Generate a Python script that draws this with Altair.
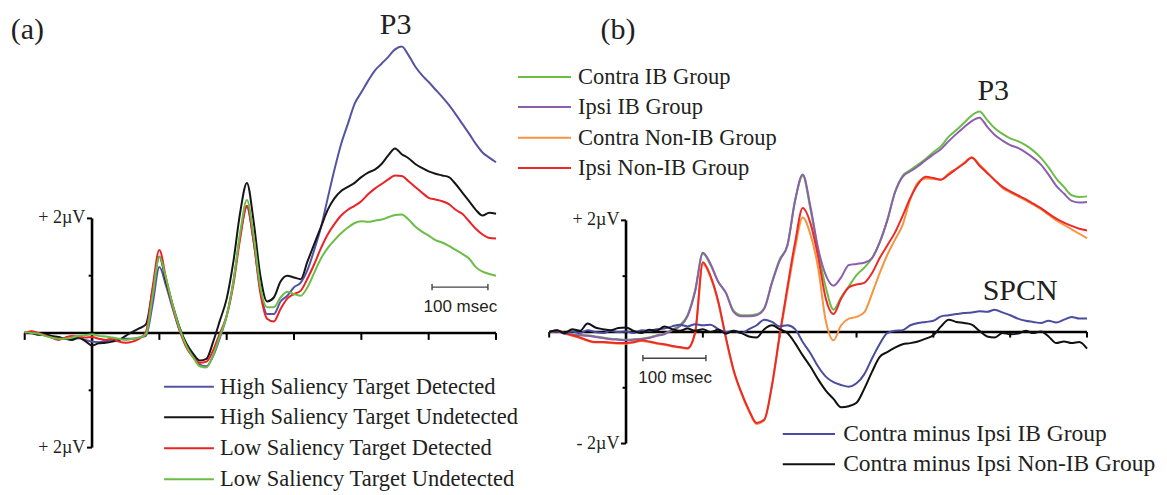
import altair as alt
import pandas as pd

# ---------------- data ----------------
TIME = list(range(-100, 601, 10))  # ms

# Panel (a)
A_SERIES = ["High Saliency Target Detected", "High Saliency Target Undetected",
            "Low Saliency Target Detected", "Low Saliency Target Undetected"]
A_HSD = [0.00, 0.02, -0.02, -0.04, -0.06, -0.08, -0.10, -0.10, -0.09, -0.12,
         -0.15, -0.16, -0.14, -0.13, -0.12, -0.10, -0.10, -0.08, -0.05, 0.50,
         1.15, 0.82, 0.42, 0.05, -0.20, -0.38, -0.55, -0.58, -0.40, -0.08,
         0.30, 0.90, 1.70, 2.20, 1.60, 0.75, 0.33, 0.33, 0.55, 0.65,
         0.80, 0.88, 1.10, 1.45, 1.84, 2.35, 2.85, 3.30, 3.65, 4.00,
         4.20, 4.40, 4.58, 4.70, 4.82, 4.95, 5.00, 4.85, 4.65, 4.50,
         4.38, 4.25, 4.12, 3.98, 3.82, 3.65, 3.48, 3.30, 3.15, 3.06, 2.98]
A_HSU = [0.02, 0.00, -0.03, -0.02, -0.05, -0.07, -0.10, -0.12, -0.08, -0.14,
         -0.22, -0.18, -0.17, -0.15, -0.12, -0.05, 0.02, 0.08, 0.15, 0.75,
         1.33, 0.90, 0.48, 0.10, -0.18, -0.36, -0.48, -0.45, -0.15, 0.22,
         0.60, 1.25, 2.10, 2.62, 1.95, 1.00, 0.55, 0.62, 0.90, 1.00,
         0.97, 0.94, 1.25, 1.55, 1.85, 2.15, 2.35, 2.48, 2.55, 2.62,
         2.72, 2.80, 2.85, 2.95, 3.10, 3.22, 3.12, 3.05, 2.95, 2.88,
         2.82, 2.78, 2.75, 2.72, 2.60, 2.45, 2.30, 2.15, 2.05, 2.10, 2.08]
A_LSD = [0.00, 0.03, 0.00, -0.04, -0.08, -0.12, -0.08, -0.05, -0.06, -0.08,
         -0.07, -0.10, -0.12, -0.10, -0.15, -0.17, -0.15, -0.10, 0.02, 0.80,
         1.45, 0.95, 0.45, 0.05, -0.25, -0.42, -0.52, -0.50, -0.30, 0.00,
         0.30, 0.85, 1.65, 2.22, 1.60, 0.70, 0.25, 0.20, 0.42, 0.60,
         0.68, 0.74, 0.95, 1.20, 1.48, 1.72, 1.90, 2.05, 2.15, 2.22,
         2.30, 2.42, 2.52, 2.60, 2.68, 2.75, 2.74, 2.65, 2.55, 2.45,
         2.36, 2.33, 2.30, 2.25, 2.15, 2.08, 1.95, 1.82, 1.72, 1.66, 1.65]
A_LSU = [0.02, 0.00, -0.01, -0.05, -0.08, -0.10, -0.10, -0.08, -0.05, -0.04,
         -0.02, -0.05, -0.06, -0.08, -0.10, -0.12, -0.10, -0.08, -0.02, 0.65,
         1.33, 0.95, 0.48, 0.08, -0.22, -0.42, -0.58, -0.60, -0.38, -0.05,
         0.30, 0.90, 1.75, 2.32, 1.70, 0.80, 0.45, 0.45, 0.62, 0.72,
         0.68, 0.65, 0.80, 1.05, 1.30, 1.48, 1.62, 1.74, 1.84, 1.92,
         1.95, 1.94, 1.96, 1.98, 2.02, 2.06, 2.07, 1.98, 1.86, 1.77,
         1.70, 1.62, 1.58, 1.52, 1.45, 1.38, 1.30, 1.15, 1.07, 1.03, 1.00]

# Panel (b)
B_SERIES = ["Contra IB Group", "Ipsi IB Group", "Contra Non-IB Group", "Ipsi Non-IB Group"]
B_DIFF_SERIES = ["Contra minus Ipsi IB Group", "Contra minus Ipsi Non-IB Group"]
B_CIB = [0.00, 0.02, -0.02, -0.04, -0.05, -0.06, -0.08, -0.10, -0.12, -0.13,
         -0.14, -0.13, -0.12, -0.10, -0.06, -0.03, 0.04, 0.12, 0.30, 0.75,
         1.40, 1.20, 0.90, 0.70, 0.38, 0.30, 0.30, 0.32, 0.43, 0.90,
         1.30, 1.55, 2.35, 2.80, 2.20, 1.45, 0.80, 0.40, 0.62, 0.82,
         1.02, 1.15, 1.32, 1.60, 2.00, 2.50, 2.80, 2.90, 3.00, 3.10,
         3.22, 3.33, 3.50, 3.62, 3.75, 3.88, 3.95, 3.80, 3.65, 3.55,
         3.47, 3.42, 3.35, 3.25, 3.12, 2.95, 2.75, 2.60, 2.45, 2.42, 2.43]
B_IIB = [0.00, 0.01, -0.03, -0.05, -0.06, -0.07, -0.09, -0.11, -0.13, -0.14,
         -0.15, -0.14, -0.13, -0.11, -0.07, -0.04, 0.03, 0.10, 0.28, 0.73,
         1.42, 1.22, 0.90, 0.70, 0.36, 0.28, 0.28, 0.30, 0.42, 0.88,
         1.28, 1.55, 2.35, 2.82, 2.25, 1.50, 1.02, 0.83, 0.98, 1.20,
         1.22, 1.24, 1.32, 1.60, 2.00, 2.50, 2.78, 2.88, 2.97, 3.08,
         3.18, 3.28, 3.42, 3.55, 3.67, 3.78, 3.84, 3.68, 3.53, 3.43,
         3.35, 3.30, 3.22, 3.12, 3.00, 2.82, 2.62, 2.48, 2.35, 2.32, 2.33]
B_CNIB = [0.00, 0.02, -0.03, -0.07, -0.11, -0.16, -0.19, -0.19, -0.20, -0.21,
          -0.21, -0.19, -0.16, -0.18, -0.21, -0.23, -0.26, -0.28, -0.30, -0.02,
          1.22, 0.98, 0.53, -0.12, -0.70, -1.10, -1.42, -1.65, -1.58, -0.96,
          -0.08, 0.72, 1.50, 2.05, 1.75, 1.15, 0.20, -0.15, 0.12, 0.24,
          0.27, 0.35, 0.68, 1.05, 1.38, 1.65, 1.92, 2.38, 2.68, 2.75,
          2.74, 2.73, 2.84, 2.93, 3.03, 3.13, 3.00, 2.86, 2.72, 2.58,
          2.50, 2.43, 2.36, 2.28, 2.20, 2.10, 2.00, 1.92, 1.84, 1.76, 1.68]
B_INIB = [0.00, 0.03, -0.02, -0.06, -0.10, -0.15, -0.18, -0.18, -0.19, -0.20,
          -0.20, -0.18, -0.15, -0.17, -0.20, -0.22, -0.25, -0.27, -0.29, 0.00,
          1.25, 1.00, 0.55, -0.10, -0.68, -1.08, -1.40, -1.63, -1.57, -0.95,
          -0.05, 0.80, 1.60, 2.22, 1.95, 1.35, 0.60, 0.32, 0.60, 0.80,
          0.85, 0.88, 1.05, 1.32, 1.55, 1.78, 2.08, 2.40, 2.65, 2.78,
          2.76, 2.73, 2.82, 2.92, 3.02, 3.12, 2.98, 2.85, 2.72, 2.60,
          2.52, 2.45, 2.38, 2.30, 2.22, 2.12, 2.03, 1.96, 1.90, 1.85, 1.82]
B_DIB = [0.00, 0.02, -0.03, 0.01, -0.02, 0.03, 0.00, -0.02, 0.02, 0.00,
         0.01, -0.02, 0.03, 0.02, 0.05, 0.06, 0.10, 0.13, 0.10, 0.14,
         0.12, 0.13, 0.05, 0.00, 0.02, -0.02, 0.05, 0.12, 0.22, 0.18,
         0.10, 0.12, 0.05, -0.18, -0.38, -0.62, -0.80, -0.90, -0.95, -0.98,
         -0.92, -0.76, -0.48, -0.22, -0.02, 0.02, 0.03, 0.12, 0.16, 0.18,
         0.20, 0.28, 0.30, 0.32, 0.34, 0.35, 0.37, 0.36, 0.40, 0.35,
         0.30, 0.24, 0.20, 0.18, 0.16, 0.20, 0.17, 0.22, 0.27, 0.24, 0.24]
B_DNIB = [0.00, 0.03, -0.02, 0.05, 0.02, 0.15, 0.08, 0.05, 0.03, 0.07,
          0.08, 0.02, -0.02, 0.04, 0.02, 0.10, 0.05, 0.02, 0.06, 0.02,
          0.05, 0.00, 0.04, -0.03, 0.02, -0.02, -0.08, -0.10, 0.05, 0.12,
          0.05, -0.02, -0.20, -0.42, -0.62, -0.85, -1.05, -1.20, -1.35, -1.33,
          -1.27, -1.02, -0.72, -0.45, -0.36, -0.28, -0.22, -0.20, -0.17, -0.12,
          -0.06, 0.10, 0.22, 0.18, 0.16, 0.13, 0.02, -0.08, -0.10, -0.02,
          -0.04, -0.03, 0.02, -0.02, 0.01, -0.08, -0.20, -0.17, -0.20, -0.18, -0.30]

X_TICKS = [-100, 100, 200, 300, 400, 500, 600]
Y_TICKS_MAJOR = [2, -2]
Y_TICKS_MINOR = [1, -1]
A_Y_LABELS = ["+ 2µV", "+ 2µV"]
B_Y_LABELS = ["+ 2µV", "- 2µV"]

# ---------------- styles ----------------
ALL_SERIES = A_SERIES + B_SERIES + B_DIFF_SERIES
ALL_COLORS = ["#5654a2", "#161616", "#ec2227", "#6cbd45",
              "#6cbd45", "#8c5fad", "#f7943d", "#ec2a2a",
              "#4b4ca0", "#111111"]
ALL_WIDTHS = [2.0, 2.0, 2.0, 2.0, 1.8, 1.8, 1.8, 1.8, 2.3, 2.9]
COLOR = alt.Scale(domain=ALL_SERIES, range=ALL_COLORS)
SW = alt.Scale(domain=ALL_SERIES, range=ALL_WIDTHS)
SERIF = "Liberation Serif"
SANS = "Liberation Sans"
INK = "#231f20"

W, H = 1151, 487
XA = alt.Scale(domain=[-124.8, 1584.7], nice=False, zero=False)
YA = alt.Scale(domain=[-2.827, 5.672], nice=False, zero=False)
XB = alt.Scale(domain=[-804.4, 693.7], nice=False, zero=False)
YB = alt.Scale(domain=[-2.922, 5.806], nice=False, zero=False)


def long_df(names, arrays):
    rows = []
    for n, arr in zip(names, arrays):
        assert len(arr) == len(TIME), n
        rows += [{"t": t, "v": v, "series": n} for t, v in zip(TIME, arr)]
    return pd.DataFrame(rows)


def curves(df, xs, ys):
    return alt.Chart(df).mark_line(interpolate="monotone", clip=False).encode(
        x=alt.X("t:Q", scale=xs, axis=None),
        y=alt.Y("v:Q", scale=ys, axis=None),
        color=alt.Color("series:N", scale=COLOR, legend=None),
        strokeWidth=alt.StrokeWidth("series:N", scale=SW, legend=None),
    )


def segments(rows, xs, ys, width, color="#000000"):
    df = pd.DataFrame(rows, columns=["x", "y", "x2", "y2"])
    return alt.Chart(df).mark_rule(color=color, strokeWidth=width).encode(
        x=alt.X("x:Q", scale=xs, axis=None),
        y=alt.Y("y:Q", scale=ys, axis=None),
        x2="x2:Q", y2="y2:Q",
    )


def texts(rows, xs, ys, size, font=SERIF, align="center"):
    df = pd.DataFrame(rows, columns=["x", "y", "label"])
    return alt.Chart(df).mark_text(font=font, fontSize=size, align=align,
                                   baseline="middle", color=INK).encode(
        x=alt.X("x:Q", scale=xs, axis=None),
        y=alt.Y("y:Q", scale=ys, axis=None),
        text="label:N",
    )


def legend(names, x1, x2, xt, ys_vals, xs, ys, size):
    df = pd.DataFrame({"series": names, "x": x1, "x2": x2, "y": ys_vals, "xt": xt})
    lines = alt.Chart(df).mark_rule().encode(
        x=alt.X("x:Q", scale=xs, axis=None), x2="x2:Q",
        y=alt.Y("y:Q", scale=ys, axis=None),
        color=alt.Color("series:N", scale=COLOR, legend=None),
        strokeWidth=alt.StrokeWidth("series:N", scale=SW, legend=None),
    )
    labels = alt.Chart(df).mark_text(font=SERIF, fontSize=size, align="left",
                                     baseline="middle", color=INK).encode(
        x=alt.X("xt:Q", scale=xs, axis=None),
        y=alt.Y("y:Q", scale=ys, axis=None),
        text="series:N",
    )
    return lines + labels


def axes(xs, ys, labels, lab_x, maj_len, min_len, tick_down):
    frame = segments([(-100, 0, 600, 0), (0, -2, 0, 2)], xs, ys, 2.6)
    ticks = [(t, 0, t, -tick_down) for t in X_TICKS]
    ticks += [(-maj_len, v, 0, v) for v in Y_TICKS_MAJOR]
    ticks += [(-min_len, v, 0, v) for v in Y_TICKS_MINOR]
    tick_layer = segments(ticks, xs, ys, 2.0)
    lab = texts([(lab_x, v, s) for v, s in zip(Y_TICKS_MAJOR, labels)], xs, ys, 18, align="right")
    return frame + tick_layer + lab


def scalebar(t1, t2, v, tl, vl, xs, ys, cap):
    bar = segments([(t1, v, t2, v), (t1, v - cap, t1, v + cap), (t2, v - cap, t2, v + cap)],
                   xs, ys, 1.4, color="#444444")
    lab = texts([(tl, vl, "100 msec")], xs, ys, 17, font=SANS)
    return bar + lab


# ---------------- panel (a) ----------------
dfa = long_df(A_SERIES, [A_HSD, A_HSU, A_LSD, A_LSU])
layer_a = alt.layer(
    axes(XA, YA, A_Y_LABELS, -10, 7.5, 5, 0.12),
    curves(dfa, XA, YA),
    scalebar(505, 588, 0.8, 547, 0.45, XA, YA, 0.055),
    legend(A_SERIES, 107, 181, 190, [-0.94, -1.47, -2.01, -2.55], XA, YA, 22.5),
    texts([(-96, 5.29, "(a)")], XA, YA, 30),
    texts([(451, 5.38, "P3")], XA, YA, 30),
)

# ---------------- panel (b) ----------------
dfb = long_df(B_SERIES, [B_CIB, B_IIB, B_CNIB, B_INIB])
dfd = long_df(B_DIFF_SERIES, [B_DIB, B_DNIB])
layer_b = alt.layer(
    axes(XB, YB, B_Y_LABELS, -8.5, 6.5, 4.5, 0.1),
    curves(dfb, XB, YB),
    curves(dfd, XB, YB),
    scalebar(22, 104, -0.47, 64, -0.82, XB, YB, 0.055),
    legend(B_SERIES, -140.6, -71.6, -62.5, [4.57, 4.03, 3.48, 2.94], XB, YB, 22.5),
    legend(B_DIFF_SERIES, 204, 272, 282.6, [-1.83, -2.37], XB, YB, 23.5),
    texts([(-10.4, 5.41, "(b)")], XB, YB, 30),
    texts([(478, 4.32, "P3")], XB, YB, 30),
    texts([(513, 0.73, "SPCN")], XB, YB, 30),
)

chart = alt.layer(layer_a, layer_b).resolve_scale(
    x="independent", y="independent"
).properties(width=W, height=H, padding=0, autosize="none").configure_view(stroke=None)

chart.save("out.html", embed_options={"renderer": "svg", "actions": False})
